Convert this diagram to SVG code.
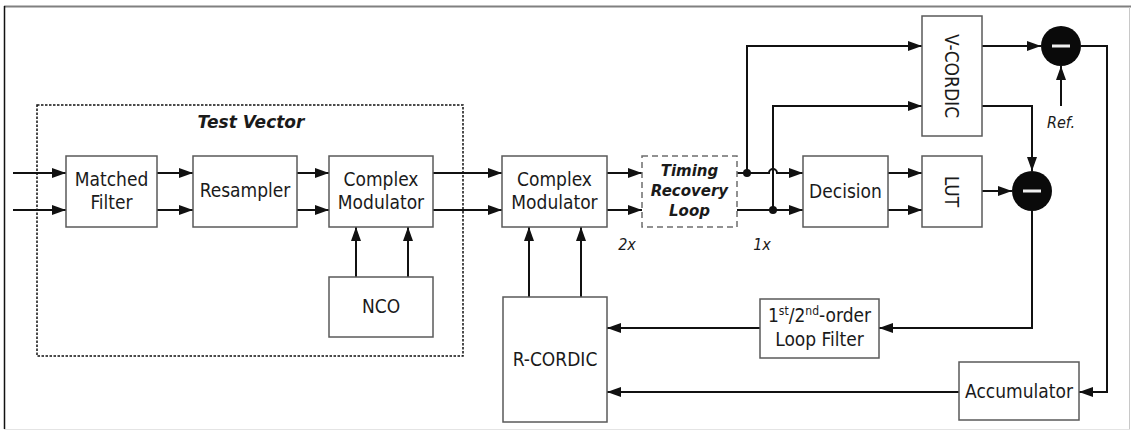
<svg xmlns="http://www.w3.org/2000/svg" width="1131" height="432" viewBox="0 0 1131 432">
<style>
  .box { fill: #ffffff; stroke: #5a5a5a; stroke-width: 1.5; }
  .t { font-family: "DejaVu Sans Condensed", "DejaVu Sans", sans-serif; font-stretch: condensed; font-size: 19px; fill: #1a1a1a; text-anchor: middle; }
  .bi { font-family: "DejaVu Sans", sans-serif; font-stretch: normal; font-weight: bold; font-style: italic; }
  .it { font-style: italic; font-size: 16px; }
  .sup { font-size: 12px; }
  .w { fill: none; stroke: #111111; stroke-width: 2; }
  .a { marker-end: url(#arr); }
</style>
<defs>
  <marker id="arr" markerUnits="userSpaceOnUse" markerWidth="15" markerHeight="11" refX="14" refY="5" orient="auto">
    <path d="M0,0 L14,5 L0,10 z" fill="#111111"/>
  </marker>
</defs>
<rect x="0" y="0" width="1131" height="432" fill="#ffffff"/>
<g id="frame">
  <line x1="4" y1="6.5" x2="1131" y2="6.5" stroke="#808080" stroke-width="2"/>
  <line x1="4.5" y1="6" x2="4.5" y2="429" stroke="#111111" stroke-width="1.5"/>
  <line x1="1129.5" y1="7" x2="1129.5" y2="429" stroke="#c8c8c8" stroke-width="1"/>
  <line x1="4" y1="429.5" x2="1130" y2="429.5" stroke="#e4e4e4" stroke-width="1"/>
</g>
<g id="test-vector">
  <rect x="37" y="105" width="426" height="251" fill="none" stroke="#111111" stroke-width="1.5" stroke-dasharray="2.5,1.5"/>
  <text class="t bi" style="font-size:17px" x="251" y="128">Test Vector</text>
</g>
<g id="connectors">
  <path class="w a" d="M13,173 H66"/>
  <path class="w a" d="M13,210 H66"/>
  <path class="w a" d="M157,173 H193"/>
  <path class="w a" d="M157,210 H193"/>
  <path class="w a" d="M297,173 H329"/>
  <path class="w a" d="M297,210 H329"/>
  <path class="w a" d="M433,173 H502"/>
  <path class="w a" d="M433,210 H502"/>
  <path class="w a" d="M356,277 V227"/>
  <path class="w a" d="M408,277 V227"/>
  <path class="w a" d="M607,173 H642"/>
  <path class="w a" d="M607,210 H642"/>
  <path class="w a" d="M737,173 H769 A4,4 0 0 1 777,173 H803"/>
  <path class="w a" d="M737,210 H803"/>
  <path class="w a" d="M747,173 V46 H922"/>
  <path class="w a" d="M773,210 V106 H922"/>
  <circle cx="747" cy="173" r="4" fill="#111111"/>
  <circle cx="773" cy="210" r="4" fill="#111111"/>
  <path class="w a" d="M888,173 H922"/>
  <path class="w a" d="M888,210 H922"/>
  <path class="w a" d="M982,46 H1041"/>
  <path class="w a" d="M1061,106 V66"/>
  <path class="w a" d="M982,106 H1032 V171"/>
  <path class="w a" d="M982,191 H1012"/>
  <path class="w a" d="M1081,46 H1107 V392 H1079"/>
  <path class="w a" d="M1032,211 V328 H879"/>
  <path class="w a" d="M760,328 H607"/>
  <path class="w a" d="M959,392 H607"/>
  <path class="w a" d="M529,297 V227"/>
  <path class="w a" d="M581,297 V227"/>
</g>
<g id="matched-filter">
  <rect class="box" x="66" y="156" width="91" height="71"/>
  <text class="t" x="111.5" y="186">Matched</text>
  <text class="t" x="111.5" y="209">Filter</text>
</g>
<g id="resampler">
  <rect class="box" x="193" y="156" width="104" height="71"/>
  <text class="t" x="245" y="197">Resampler</text>
</g>
<g id="complex-modulator-1">
  <rect class="box" x="329" y="156" width="104" height="71"/>
  <text class="t" x="381" y="186">Complex</text>
  <text class="t" x="381" y="209">Modulator</text>
</g>
<g id="nco">
  <rect class="box" x="329" y="277" width="104" height="60"/>
  <text class="t" x="381" y="313">NCO</text>
</g>
<g id="complex-modulator-2">
  <rect class="box" x="502" y="156" width="105" height="71"/>
  <text class="t" x="554.5" y="186">Complex</text>
  <text class="t" x="554.5" y="209">Modulator</text>
</g>
<g id="timing-recovery-loop">
  <rect x="642" y="156" width="95" height="71" fill="#ffffff" stroke="#6e6e6e" stroke-width="1.5" stroke-dasharray="6,4"/>
  <text class="t bi" style="font-size:15px" x="689.5" y="176">Timing</text>
  <text class="t bi" style="font-size:15px" x="689.5" y="196">Recovery</text>
  <text class="t bi" style="font-size:15px" x="689.5" y="216">Loop</text>
</g>
<g id="rate-labels">
  <text class="t it" x="627" y="250">2x</text>
  <text class="t it" x="762" y="250">1x</text>
</g>
<g id="decision">
  <rect class="box" x="803" y="156" width="85" height="71"/>
  <text class="t" x="845.5" y="198">Decision</text>
</g>
<g id="v-cordic">
  <rect class="box" x="922" y="16" width="60" height="120"/>
  <text class="t" x="0" y="0" transform="translate(945,76) rotate(90)">V-CORDIC</text>
</g>
<g id="lut">
  <rect class="box" x="922" y="156" width="60" height="71"/>
  <text class="t" x="0" y="0" transform="translate(945,191.5) rotate(90)">LUT</text>
</g>
<g id="subtract-1">
  <circle cx="1061" cy="46" r="20" fill="#0a0a0a"/>
  <rect x="1052" y="44.5" width="18" height="3" fill="#f0f0f0"/>
</g>
<g id="ref-label">
  <text class="t it" x="1061" y="128">Ref.</text>
</g>
<g id="subtract-2">
  <circle cx="1032" cy="191" r="20" fill="#0a0a0a"/>
  <rect x="1023" y="189.5" width="18" height="3" fill="#f0f0f0"/>
</g>
<g id="loop-filter">
  <rect class="box" x="760" y="299" width="119" height="59"/>
  <text class="t" x="819.5" y="322">1<tspan class="sup" dy="-7">st</tspan><tspan dy="7">/2</tspan><tspan class="sup" dy="-7">nd</tspan><tspan dy="7">-order</tspan></text>
  <text class="t" x="819.5" y="346">Loop Filter</text>
</g>
<g id="r-cordic">
  <rect class="box" x="503" y="297" width="104" height="125"/>
  <text class="t" x="555" y="366">R-CORDIC</text>
</g>
<g id="accumulator">
  <rect class="box" x="959" y="362" width="120" height="58"/>
  <text class="t" x="1019" y="398">Accumulator</text>
</g>
</svg>
